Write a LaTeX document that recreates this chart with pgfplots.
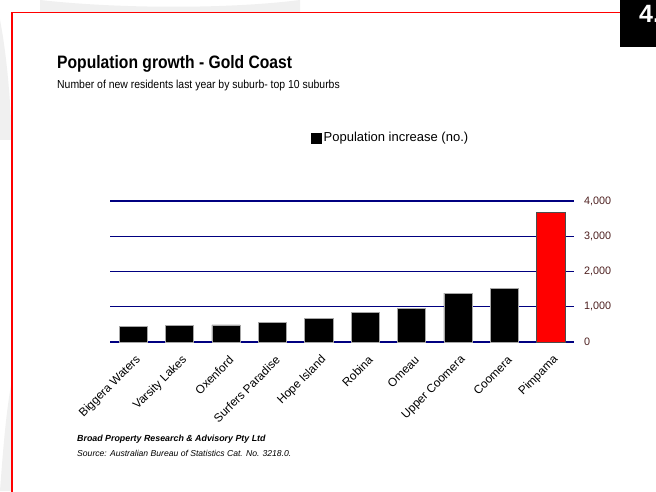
\documentclass[border=0pt]{standalone}
\usepackage{fontspec}
\setmainfont{Liberation Sans}
\usepackage{pgfplots}
\pgfplotsset{compat=1.18}
\definecolor{navy}{HTML}{000080}
\definecolor{ticklab}{HTML}{4D1F1F}
\definecolor{swoosh}{HTML}{F0F0F0}
\begin{document}
\begin{tikzpicture}[x=1pt,y=1pt]
\useasboundingbox (0,0) rectangle (656,491);
\fill[white] (0,0) rectangle (656,491);
% background swoosh (faint)
\fill[swoosh] (40,491) .. controls (120,482) and (230,482) .. (300,491) -- (300,470) -- (40,470) -- cycle;
\fill[swoosh] (0,471) .. controls (6,440) and (10,400) .. (12,351) -- (0,351) -- cycle;
\fill[swoosh] (0,0) -- (12,0) -- (12,111) .. controls (6,80) and (3,40) .. (0,0) -- cycle;
\fill[white] (12,-2) rectangle (620,478.5);
% red frame
\draw[red, line width=1.5] (620,478.5) -- (12,478.5) -- (12,-2);
% black page-number box
\fill[black] (620,491) rectangle (660,444);
\node[white, anchor=north west, inner sep=0pt] at (639,486) {\fontsize{25}{25}\selectfont\bfseries 4.};
% titles
\node[anchor=base west, inner sep=0pt] at (57,422.5) {\scalebox{0.87}[1]{\fontsize{18}{18}\selectfont\bfseries Population growth - Gold Coast}};
\node[anchor=base west, inner sep=0pt] at (57,402) {\scalebox{0.9}[1]{\fontsize{11.6}{12}\selectfont Number of new residents last year by suburb- top 10 suburbs}};
% footer
\node[anchor=base west, inner sep=0pt] at (77,50) {\fontsize{8.85}{9}\selectfont\bfseries\itshape Broad Property Research \& Advisory Pty Ltd};
\node[anchor=base west, inner sep=0pt] at (77,35) {\fontsize{8.6}{9}\selectfont\itshape Source: Australian Bureau of Statistics Cat. No. 3218.0.};
\begin{axis}[
  at={(110pt,149pt)}, anchor=south west,
  scale only axis, width=464pt, height=141pt,
  xmin=-0.5, xmax=9.5, ymin=0, ymax=4000,
  axis line style={draw=none},
  tick style={draw=none},
  ytick={0,1000,2000,3000,4000},
  ytick pos=right, yticklabel pos=right,
  ymajorgrids, grid style={navy, line width=1.2pt},
  /pgf/number format/assume math mode=true,
  /pgf/number format/1000 sep={,},
  yticklabel style={anchor=west, inner sep=0pt, xshift=10pt, text=ticklab, font=\fontsize{10.8}{11}\selectfont},
  xtick={0,1,2,3,4,5,6,7,8,9},
  xticklabels={Biggera Waters,Varsity Lakes,Oxenford,Surfers Paradise,Hope Island,Robina,Omeau,Upper Coomera,Coomera,Pimpama},
  xticklabel style={xshift=5.5pt, yshift=-16pt, rotate=45, anchor=east, inner sep=0pt, font=\fontsize{11.8}{12}\selectfont},
  legend style={draw=none, fill=none, at={(rel axis cs:0.433,1)}, anchor=west, yshift=63pt, inner sep=0pt, font=\fontsize{13}{13}\selectfont, legend cell align=left},
  legend image code/.code={\fill[black] (0pt,-5pt) rectangle (10pt,5pt);},
  clip=false,
]
\addplot[ybar, bar width=0.61, bar shift=0pt, fill=black, draw=gray!70, line width=0.6pt]
  coordinates {(0,453) (1,481) (2,483) (3,555) (4,680) (5,830) (6,952) (7,1388) (8,1510)};
\addlegendentry{Population increase (no.)}
\addplot[ybar, bar width=0.61, bar shift=0pt, fill=red, draw=gray!60!black, line width=0.6pt, forget plot]
  coordinates {(9,3668)};
\end{axis}
\end{tikzpicture}
\end{document}
